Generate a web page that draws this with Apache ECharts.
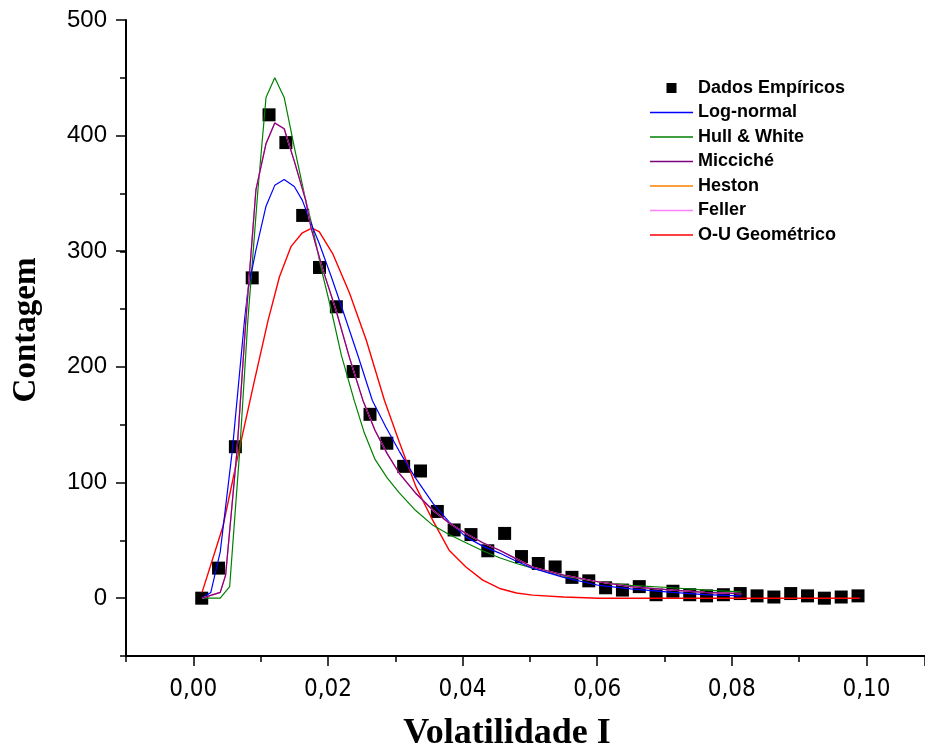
<!DOCTYPE html>
<html>
<head>
<meta charset="utf-8">
<script src="https://cdn.jsdelivr.net/npm/echarts@6/dist/echarts.min.js"></script>
<style>
  html, body { margin: 0; padding: 0; background: #fff; }
  #chart { width: 925px; height: 751px; }
</style>
</head>
<body>
<div id="chart"></div>
<script>
// Empirical histogram of volatility counts
const empiricalX = [0.00125, 0.00375, 0.00625, 0.00875, 0.01125, 0.01375, 0.01625, 0.01875, 0.02125, 0.02375,
  0.02625, 0.02875, 0.03125, 0.03375, 0.03625, 0.03875, 0.04125, 0.04375, 0.04625, 0.04875,
  0.05125, 0.05375, 0.05625, 0.05875, 0.06125, 0.06375, 0.06625, 0.06875, 0.07125, 0.07375,
  0.07625, 0.07875, 0.08125, 0.08375, 0.08625, 0.08875, 0.09125, 0.09375, 0.09625, 0.09875];
const empiricalY = [0, 26, 131, 277, 418, 394, 331, 286, 252, 196,
  159, 134, 114, 110, 75, 59, 55, 41, 56, 36,
  30, 27, 18, 15, 9, 7, 10, 3, 6, 3,
  2, 3, 4, 2, 1, 4, 2, 0, 1, 2];

// Fitted densities (scaled to counts)
const logNormalX = [0.0013, 0.0026, 0.0040, 0.0058, 0.0076, 0.0081, 0.0093, 0.0108, 0.0121, 0.0135, 0.0150, 0.0162,
  0.0177, 0.0187, 0.0205, 0.0222, 0.0245, 0.0266, 0.0286, 0.0306, 0.0330, 0.0356, 0.0380, 0.0405,
  0.0430, 0.0455, 0.0480, 0.0504, 0.0550, 0.0603, 0.0650, 0.0712, 0.0760, 0.0814];
const logNormalY = [0, 5, 40, 128, 240, 266, 301, 339, 357, 362, 356, 344,
  321, 307, 278, 249, 209, 171, 148, 127, 104, 82, 66, 53,
  45, 39, 32, 26, 18, 11, 8, 5, 3, 2];

const hullWhiteX = [0.0013, 0.0040, 0.0054, 0.0069, 0.0081, 0.0096, 0.0108, 0.0121, 0.0135, 0.0150, 0.0167,
  0.0177, 0.0190, 0.0205, 0.0220, 0.0239, 0.0254, 0.0270, 0.0288, 0.0306, 0.0330, 0.0356, 0.0380,
  0.0405, 0.0430, 0.0455, 0.0480, 0.0504, 0.0550, 0.0603, 0.0650, 0.0712, 0.0760, 0.0814];
const hullWhiteY = [0, 0, 10, 128, 240, 353, 433, 450, 433, 390, 344,
  321, 285, 249, 210, 171, 143, 120, 104, 91, 76, 63, 55,
  48, 41, 35, 30, 26, 19, 14, 11, 9, 7, 5.5];

const miccicheX = [0.0013, 0.0040, 0.0048, 0.0065, 0.0078, 0.0093, 0.0108, 0.0121, 0.0135, 0.0150, 0.0167,
  0.0175, 0.0192, 0.0212, 0.0232, 0.0252, 0.0270, 0.0288, 0.0306, 0.0330, 0.0356, 0.0380, 0.0405,
  0.0430, 0.0455, 0.0480, 0.0504, 0.0550, 0.0603, 0.0650, 0.0712, 0.0760, 0.0814];
const miccicheY = [0, 5, 20, 128, 240, 353, 393, 411, 406, 378, 344,
  320, 285, 249, 208, 171, 145, 125, 108, 91, 76, 65, 56,
  48, 41.5, 34, 27, 20, 14, 10, 7, 5, 4];

// Heston and Feller fits coincide with the Micciché curve
const hestonX = miccicheX;
const hestonY = miccicheY;
const fellerX = miccicheX;
const fellerY = miccicheY;

const ouGeoX = [0.0013, 0.0044, 0.0068, 0.0090, 0.0111, 0.0128, 0.0145, 0.0162, 0.0176, 0.0187, 0.0207,
  0.0232, 0.0257, 0.0284, 0.0306, 0.0331, 0.0356, 0.0380, 0.0405, 0.0430, 0.0455, 0.0480,
  0.0504, 0.0550, 0.0603, 0.0700, 0.0800, 0.0900, 0.0990];
const ouGeoY = [5, 62, 128, 186, 240, 278, 304, 316, 320, 317, 298,
  264, 223, 171, 135, 96, 67, 41.5, 27, 15.6, 8.4, 4.5,
  2.6, 1, 0, 0, 0, 0, 0];

const xTickLabels = ['0,00', '0,02', '0,04', '0,06', '0,08', '0,10'];
const yTickLabels = ['0', '100', '200', '300', '400', '500'];

const legendNames = ['Dados Empíricos', 'Log-normal', 'Hull & White', 'Micciché', 'Heston', 'Feller', 'O-U Geométrico'];

const zip = (xs, ys) => xs.map((x, i) => [x, ys[i]]);

// label lookup for ticks that fall on a whole step; anything else stays blank
const stepLabel = (labels, step) => v => {
  const k = v / step;
  const r = Math.round(k);
  return Math.abs(k - r) < 1e-6 && labels[r] !== undefined ? labels[r] : '';
};

const chart = echarts.init(document.getElementById('chart'), null, { renderer: 'canvas' });

const lineSeries = (name, xs, ys, color, width) => ({
  name: name,
  type: 'line',
  xAxisIndex: 0,
  yAxisIndex: 0,
  data: zip(xs, ys),
  symbol: 'none',
  showSymbol: false,
  lineStyle: { color: color, width: width },
  itemStyle: { color: color },
  animation: false
});

const black = '#000';
const X_MAX = 0.1087;

// Legend icons: a filled square for the data, a thin bar for each fitted curve
const squareIcon = 'path://M0,0 L10,0 L10,10 L0,10 Z';
const lineIcon = 'path://M0,0 L43,0 L43,1.3 L0,1.3 Z';

chart.setOption({
  animation: false,
  backgroundColor: '#fff',
  grid: [
    // plotting grid
    { left: 126, top: 20, right: 0, height: 636, containLabel: false, outerBoundsMode: 'none' },
    // grid carrying the labelled major ticks (starts at x = 0, y = 0)
    { left: 193.3, top: 20, right: 0, height: 578, containLabel: false, outerBoundsMode: 'none' }
  ],
  xAxis: [
    {
      type: 'value', gridIndex: 0, min: -0.01, max: X_MAX, interval: 0.01,
      axisLine: { show: true, onZero: false, lineStyle: { color: black, width: 2 } },
      axisTick: { show: true, length: 6, lineStyle: { color: black, width: 1.5 } },
      axisLabel: { show: false },
      splitLine: { show: false }
    },
    {
      type: 'value', gridIndex: 1, min: 0, max: X_MAX, interval: 0.02, offset: 58,
      axisLine: { show: false, onZero: false },
      axisTick: { show: true, length: 10, lineStyle: { color: black, width: 1.5 } },
      axisLabel: {
        show: true, margin: 22, color: black,
        fontFamily: '"Liberation Sans Narrow", "DejaVu Sans Condensed", Arial, sans-serif',
        fontSize: 24,
        formatter: stepLabel(xTickLabels, 0.02)
      },
      splitLine: { show: false }
    }
  ],
  yAxis: [
    {
      type: 'value', gridIndex: 0, min: -50, max: 500, interval: 50,
      axisLine: { show: true, onZero: false, lineStyle: { color: black, width: 2 } },
      axisTick: { show: true, length: 6, lineStyle: { color: black, width: 1.5 } },
      axisLabel: { show: false },
      splitLine: { show: false }
    },
    {
      type: 'value', gridIndex: 1, min: 0, max: 500, interval: 100, offset: 67.3,
      axisLine: { show: false, onZero: false },
      axisTick: { show: true, length: 10, lineStyle: { color: black, width: 1.5 } },
      axisLabel: {
        show: true, margin: 19, color: black,
        fontFamily: '"Liberation Sans", Arial, sans-serif',
        fontSize: 24,
        formatter: stepLabel(yTickLabels, 100)
      },
      splitLine: { show: false }
    }
  ],
  legend: {
    data: legendNames.map((n, i) => ({ name: n, icon: i === 0 ? squareIcon : lineIcon })),
    orient: 'vertical',
    left: 645,
    top: 74,
    itemWidth: 43,
    itemHeight: 10,
    itemGap: 6.5,
    selectedMode: false,
    textStyle: {
      color: black,
      fontFamily: '"Liberation Sans", Arial, sans-serif',
      fontWeight: 'bold',
      fontSize: 18
    }
  },
  graphic: [
    {
      type: 'text',
      x: 26, y: 330,
      rotation: Math.PI / 2,
      style: {
        text: 'Contagem',
        fill: black,
        align: 'center',
        verticalAlign: 'middle',
        font: 'bold 33px "Liberation Serif", "Times New Roman", serif'
      }
    },
    {
      type: 'text',
      x: 507, y: 734,
      style: {
        text: 'Volatilidade I',
        fill: black,
        align: 'center',
        verticalAlign: 'middle',
        font: 'bold 36px "Liberation Serif", "Times New Roman", serif'
      }
    }
  ],
  series: [
    {
      name: 'Dados Empíricos',
      type: 'scatter',
      xAxisIndex: 0, yAxisIndex: 0,
      data: zip(empiricalX, empiricalY),
      symbol: 'rect',
      symbolSize: 13,
      itemStyle: { color: black, opacity: 1 },
      z: 1,
      animation: false
    },
    lineSeries('O-U Geométrico', ouGeoX, ouGeoY, '#ff0000', 1.4),
    lineSeries('Hull & White', hullWhiteX, hullWhiteY, '#008000', 1.2),
    lineSeries('Log-normal', logNormalX, logNormalY, '#0000ff', 1.2),
    lineSeries('Heston', hestonX, hestonY, '#ff8000', 1.2),
    lineSeries('Feller', fellerX, fellerY, '#ff80ff', 1.2),
    lineSeries('Micciché', miccicheX, miccicheY, '#800080', 1.2)
  ]
});
</script>
</body>
</html>
